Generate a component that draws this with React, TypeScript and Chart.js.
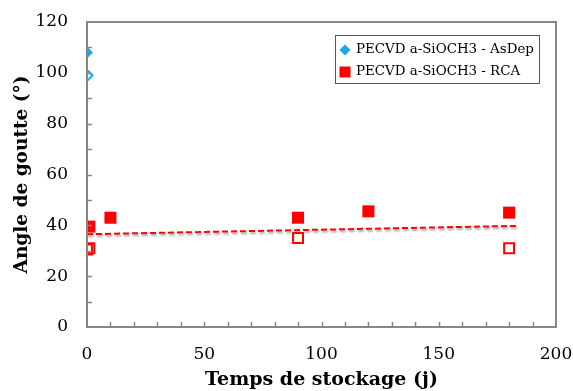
import React, { useEffect, useRef } from 'react';
import { Chart, registerables } from 'chart.js';
Chart.register(...registerables);

const asDepFilledX = [0];
const asDepFilledY = [108];
const asDepHollowX = [0];
const asDepHollowY = [99];
const rcaFilledX = [1, 10, 90, 120, 180];
const rcaFilledY = [39.5, 43, 43, 45.5, 45];
const rcaHollowX = [0, 1, 90, 180];
const rcaHollowY = [30.5, 31, 35, 31];
const trendX = [0, 184];
const trendY = [36.5, 39.8];
const legendLabels = ['PECVD a-SiOCH3 - AsDep', 'PECVD a-SiOCH3 - RCA'];
const xTitle = 'Temps de stockage (j)';
const yTitle = 'Angle de goutte (°)';

const BLUE = '#1AA7EC';
const RED = '#FF0000';
const FONT = '"DejaVu Serif", serif';

const pts = (xs: number[], ys: number[]) => xs.map((x, i) => ({ x, y: ys[i] }));

const framePlugin = {
  id: 'frame',
  beforeDatasetDraw(chart: any, args: any) {
    if (args.index === 4) {
      const ctx = chart.ctx;
      ctx.save();
      ctx.shadowColor = 'rgba(0,0,0,0.35)';
      ctx.shadowOffsetY = 2;
      ctx.shadowOffsetX = 1;
      ctx.shadowBlur = 2;
    }
  },
  afterDatasetDraw(chart: any, args: any) {
    if (args.index === 4) chart.ctx.restore();
  },
  afterDraw(chart: any) {
    const ctx = chart.ctx;
    const { left, right, top, bottom } = chart.chartArea;
    const xs = chart.scales.x;
    const ys = chart.scales.y;
    ctx.save();
    ctx.strokeStyle = '#868686';
    ctx.lineWidth = 2;
    ctx.strokeRect(left, top, right - left, bottom - top);
    ctx.lineWidth = 1.5;
    for (let v = 10; v < 200; v += 10) {
      const px = Math.round(xs.getPixelForValue(v)) + 0.5;
      ctx.beginPath();
      ctx.moveTo(px, bottom);
      ctx.lineTo(px, bottom - 5);
      ctx.stroke();
    }
    for (let v = 10; v < 120; v += 10) {
      const py = Math.round(ys.getPixelForValue(v)) + 0.5;
      ctx.beginPath();
      ctx.moveTo(left, py);
      ctx.lineTo(left + 5, py);
      ctx.stroke();
    }
    // legend
    const lx = 335.5, ly = 35.5, lw = 204, lh = 48;
    ctx.fillStyle = '#fff';
    ctx.fillRect(lx, ly, lw, lh);
    ctx.strokeStyle = '#555';
    ctx.lineWidth = 1;
    ctx.strokeRect(lx, ly, lw, lh);
    ctx.fillStyle = BLUE;
    ctx.beginPath();
    ctx.moveTo(345, 44.5);
    ctx.lineTo(350.5, 50);
    ctx.lineTo(345, 55.5);
    ctx.lineTo(339.5, 50);
    ctx.closePath();
    ctx.fill();
    ctx.fillStyle = RED;
    ctx.fillRect(339.5, 66.5, 11, 11);
    ctx.fillStyle = '#000';
    ctx.font = '13.4px ' + FONT;
    ctx.textBaseline = 'middle';
    ctx.fillText(legendLabels[0], 356, 50);
    ctx.fillText(legendLabels[1], 356, 72);
    ctx.restore();
  },
};

export default function App() {
  const ref = useRef<HTMLCanvasElement>(null);
  useEffect(() => {
    document.body.style.margin = '0';
    const chart = new Chart(ref.current as HTMLCanvasElement, {
      type: 'scatter',
      data: {
        datasets: [
          { data: pts(asDepFilledX, asDepFilledY), pointStyle: 'rectRot', pointRadius: 6, backgroundColor: BLUE, borderColor: BLUE, borderWidth: 0 },
          { data: pts(asDepHollowX, asDepHollowY), pointStyle: 'rectRot', pointRadius: 5.5, backgroundColor: '#fff', borderColor: BLUE, borderWidth: 2 },
          { data: pts(rcaFilledX, rcaFilledY), pointStyle: 'rect', pointRadius: 8.5, backgroundColor: RED, borderColor: RED, borderWidth: 0 },
          { data: pts(rcaHollowX, rcaHollowY), pointStyle: 'rect', pointRadius: 7, backgroundColor: 'rgba(255,255,255,0)', borderColor: RED, borderWidth: 2 },
          { data: pts(trendX, trendY), showLine: true, pointRadius: 0, borderColor: RED, borderWidth: 2, borderDash: [6, 3], fill: false },
        ] as any,
      },
      options: {
        animation: false,
        responsive: false,
        layout: { padding: { top: 22, right: 17, left: 0, bottom: 0 } },
        plugins: { legend: { display: false }, tooltip: { enabled: false } },
        scales: {
          x: {
            type: 'linear', min: 0, max: 200,
            afterFit: (s: any) => { s.height = 64; },
            grid: { display: true, drawOnChartArea: false, drawTicks: true, tickLength: 17, tickColor: 'rgba(0,0,0,0)' },
            border: { display: false },
            ticks: { stepSize: 50, padding: 0, color: '#000', font: { family: FONT, size: 17 } },
            title: { display: true, text: xTitle, color: '#000', padding: { top: 0, bottom: 0 }, font: { family: FONT, size: 19, weight: 'bold' } },
          },
          y: {
            type: 'linear', min: 0, max: 120,
            afterFit: (s: any) => { s.width = 87; },
            grid: { display: true, drawOnChartArea: false, drawTicks: true, tickLength: 19, tickColor: 'rgba(0,0,0,0)' },
            border: { display: false },
            ticks: { stepSize: 20, padding: 0, color: '#000', font: { family: FONT, size: 17 } },
            title: { display: true, text: yTitle, color: '#000', padding: { top: 11, bottom: 0 }, font: { family: FONT, size: 18.5, weight: 'bold' } },
          },
        },
      } as any,
      plugins: [framePlugin],
    });
    return () => chart.destroy();
  }, []);
  return <canvas ref={ref} width={573} height={391} style={{ display: 'block' }} />;
}
